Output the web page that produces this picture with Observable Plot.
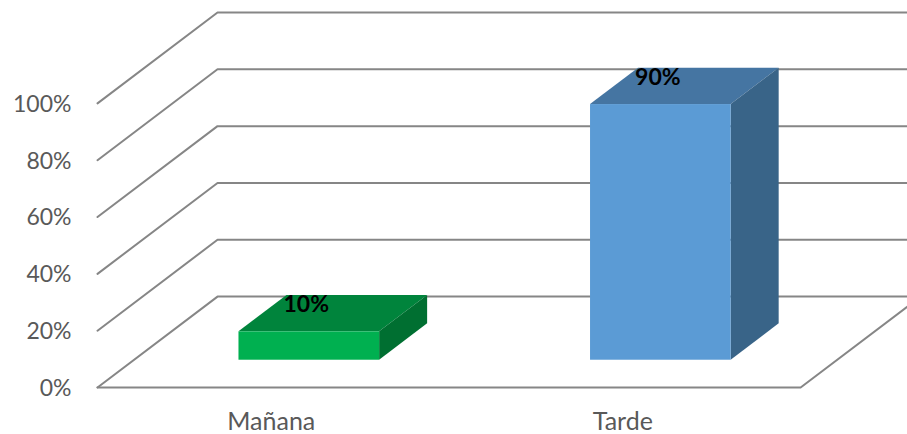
<!DOCTYPE html>
<html>
<head>
<meta charset="utf-8">
<style>html,body{margin:0;padding:0;background:#fff}svg{display:block}</style>
<script src="https://cdn.jsdelivr.net/npm/d3@7"></script>
<script src="https://cdn.jsdelivr.net/npm/@observablehq/plot@0.6"></script>
</head>
<body>
<div id="chart"></div>
<script>
const categories = ["Mañana", "Tarde"];
const values = [10, 90];
const frontColors = ["#00B050", "#5B9BD5"];
const topColors = ["#00843C", "#4575A2"];
const sideColors = ["#006F31", "#396488"];
const yTicks = [0, 20, 40, 60, 80, 100];

// Oblique projection of the 3D floor, in data units
const depthX = 0.3414, depthY = 32;      // shift of a point at full depth
const barWidth = 0.4, barFront = 0.3, barBack = 0.7;
const xMax = 2.304, yMax = 132;
const px = (x, d) => x + d * depthX;
const py = (v, d) => v + d * depthY;

const bars = categories.map((c, i) => ({
  c, v: values[i], x0: i + 0.5 - barWidth / 2, x1: i + 0.5 + barWidth / 2,
  front: frontColors[i], top: topColors[i], side: sideColors[i]
}));

const gridPaths = yTicks.flatMap(v => [
  {v, x: px(0, 0), y: py(v, 0)},
  {v, x: px(0, 1), y: py(v, 1)},
  {v, x: xMax, y: py(v, 1)}
]);
const floorPath = [
  {x: px(0, 0), y: py(0, 0)},
  {x: px(2, 0), y: py(0, 0)},
  {x: xMax, y: py(0, (xMax - 2) / depthX)}
];
const topFace = bars.flatMap(b => [barFront, barBack].map(d => ({
  c: b.c, fill: b.top, y: py(b.v, d), x1: px(b.x0, d), x2: px(b.x1, d)
})));
const sideFace = bars.flatMap(b => [barFront, barBack].map(d => ({
  c: b.c, fill: b.side, x: px(b.x1, d), y1: py(0, d), y2: py(b.v, d)
})));

const chart = Plot.plot({
  width: 907,
  height: 434,
  marginLeft: 97,
  marginRight: 0,
  marginTop: 12,
  marginBottom: 47,
  style: {fontFamily: "Lato, 'Open Sans', sans-serif", fontSize: "23px", background: "#fff"},
  x: {domain: [0, xMax]},
  y: {domain: [0, yMax]},
  color: {type: "identity"},
  marks: [
    Plot.line(gridPaths, {x: "x", y: "y", z: "v", stroke: "#868686", strokeWidth: 2}),
    Plot.line(floorPath, {x: "x", y: "y", stroke: "#868686", strokeWidth: 2}),
    Plot.areaX(topFace, {y: "y", x1: "x1", x2: "x2", z: "c", fill: "fill"}),
    Plot.areaY(sideFace, {x: "x", y1: "y1", y2: "y2", z: "c", fill: "fill"}),
    Plot.rect(bars, {
      x1: b => px(b.x0, barFront), x2: b => px(b.x1, barFront),
      y1: () => py(0, barFront), y2: b => py(b.v, barFront), fill: "front"
    }),
    Plot.text(bars, {
      x: b => px((b.x0 + b.x1) / 2, barFront),
      y: b => py(b.v, barBack),
      text: b => b.v + "%", dx: -3, dy: 9, fill: "#000", fontWeight: "bold", fontSize: 23
    }),
    Plot.axisY({ticks: yTicks, tickFormat: d => d + "%", tickSize: 0, tickPadding: 26, dy: 1, label: null, fill: "#595959", fontSize: 23}),
    Plot.axisX({ticks: [0.5, 1.5], tickFormat: d => categories[d - 0.5], tickSize: 0, tickPadding: 25, dx: -2, label: null, fill: "#595959", fontSize: 25})
  ]
});
document.getElementById("chart").append(chart);
</script>
</body>
</html>
